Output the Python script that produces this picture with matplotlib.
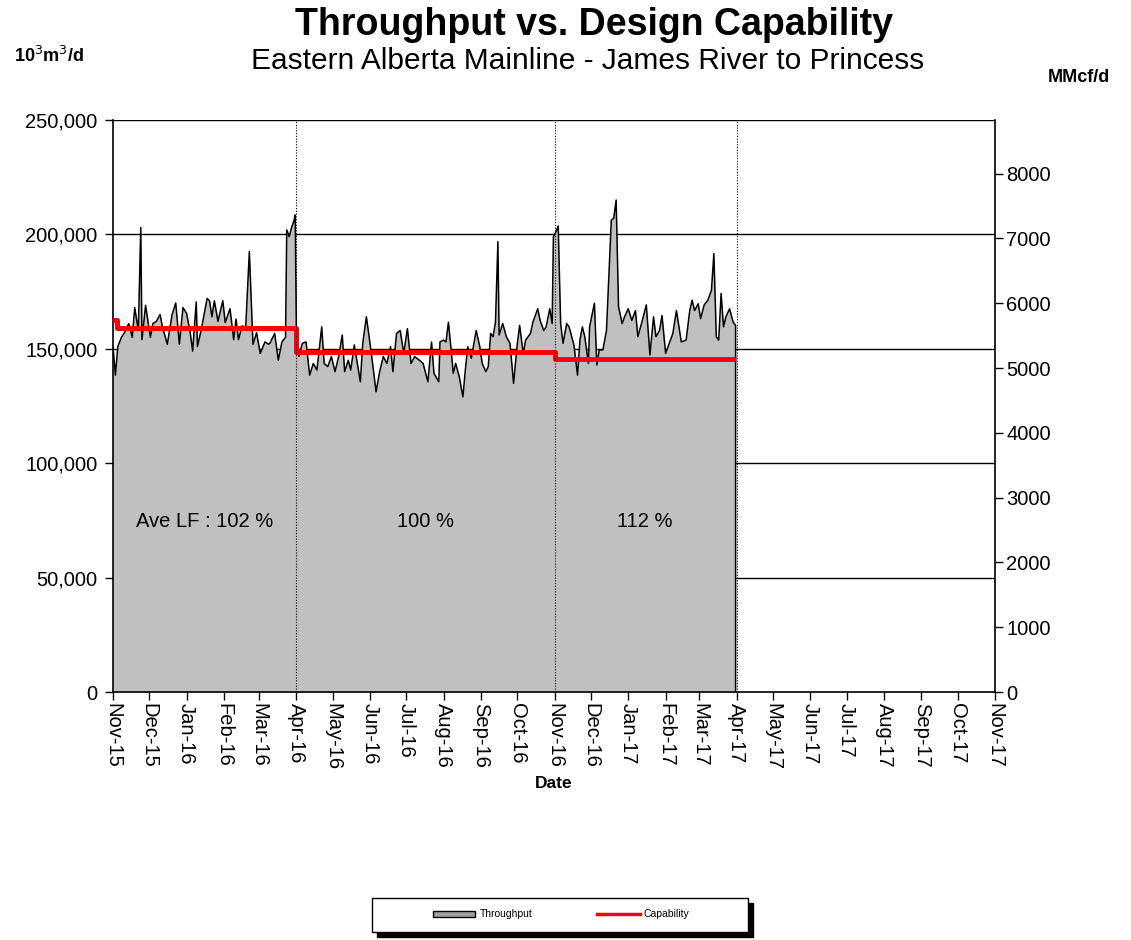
import numpy as np
import matplotlib
matplotlib.use('Agg')
import matplotlib.pyplot as plt
import matplotlib.dates as mdates
from matplotlib.ticker import FuncFormatter, MultipleLocator
from matplotlib.patches import Rectangle
from matplotlib.lines import Line2D

plt.rcParams['font.family'] = ['Liberation Sans', 'DejaVu Sans']

START = np.datetime64('2015-11-01')
END = np.datetime64('2017-11-01')

# Throughput (10^3 m3/d, in thousands) by day offset from 1 Nov 2015
thru_days = [0, 2, 4, 7, 10, 13, 16, 18, 21, 23, 24, 27, 31, 33, 36, 39, 41, 45, 49, 52,
             55, 58, 61, 64, 66, 69, 70, 73, 78, 80, 82, 84, 87, 91, 93, 97, 100, 102, 104, 107,
             110, 113, 116, 119, 122, 126, 129, 130, 134, 137, 140, 143, 144, 146, 148, 150, 151, 152,
             153, 154, 157, 160, 163, 166, 169, 173, 175, 178, 181, 184, 187, 190, 192, 195, 197,
             200, 205, 207, 210, 213, 216, 218, 221, 224, 227, 230, 232, 235, 238, 241, 244, 247,
             250, 254, 257, 261, 264, 266, 270, 271, 274, 276, 278, 280, 282, 284, 287, 290, 292,
             294, 297, 301, 304, 306, 309, 311, 313, 315, 317, 319, 320, 323, 326, 329, 332, 335,
             337, 340, 342, 346, 348, 352, 354, 357, 359, 362, 364, 365, 367, 369, 371, 373, 376,
             378, 382, 385, 387, 389, 391, 394, 395, 399, 401, 403, 406, 409, 410, 413, 415, 417,
             419, 422, 424, 427, 430, 433, 435, 438, 442, 445, 448, 450, 453, 455, 458, 462, 464,
             467, 471, 475, 478, 480, 482, 485, 487, 490, 493, 496, 498, 500, 502, 504, 506, 508,
             511, 514, 516]
thru_k = [151.0, 138.5, 151.0, 155.0, 157.5, 161.0, 155.0, 168.0, 158.0, 203.0, 154.0, 169.0, 155.0, 161.0, 162.0, 165.0, 159.5, 152.0, 165.0, 170.0,
          152.0, 168.0, 165.5, 157.0, 149.0, 170.5, 151.0, 158.0, 172.0, 171.0, 164.0, 171.0, 162.0, 171.0, 161.5, 167.5, 154.0, 163.0, 154.0, 160.0,
          159.5, 192.5, 152.0, 157.0, 148.0, 153.0, 152.0, 152.4, 156.7, 145.0, 153.0, 155.0, 202.0, 199.0, 203.0, 206.0, 208.5, 158.0,
          150.0, 146.7, 152.4, 153.0, 138.5, 143.6, 140.7, 159.6, 143.6, 142.2, 146.6, 140.0, 146.6, 156.0, 140.0, 145.0, 140.7,
          151.7, 135.6, 152.4, 164.0, 152.4, 140.0, 131.2, 140.0, 146.6, 143.6, 150.9, 140.0, 156.7, 158.0, 148.0, 158.8, 143.6,
          146.6, 145.0, 143.6, 135.6, 153.0, 139.3, 135.6, 153.0, 153.8, 153.0, 161.6, 150.9, 139.3, 143.6, 137.8, 129.0, 140.7,
          150.9, 145.9, 158.0, 150.9, 143.6, 140.0, 142.2, 156.7, 155.3, 161.6, 196.8, 156.0, 161.0, 155.3, 152.4, 134.9, 151.7,
          160.2, 148.0, 153.8, 156.7, 161.6, 167.5, 162.4, 158.0, 159.6, 167.5, 161.0, 199.0, 201.0, 203.7, 161.0, 152.4, 161.0,
          159.6, 151.7, 138.5, 153.8, 159.6, 155.3, 143.6, 159.6, 169.9, 142.9, 149.5, 149.5, 158.0, 169.9, 206.3, 207.0, 215.0,
          168.4, 161.0, 164.0, 167.5, 162.4, 166.7, 155.3, 161.0, 169.2, 147.3, 164.0, 155.3, 158.0, 164.6, 148.0, 153.8, 156.7,
          166.7, 153.0, 153.8, 166.7, 171.2, 166.7, 169.7, 163.2, 169.2, 171.2, 175.6, 191.6, 155.3, 153.8, 174.2, 159.6, 164.0,
          167.5, 161.6, 160.2]

# Design capability (10^3 m3/d, thousands), stepwise
cap_days = [0, 3, 152, 366, 516]
cap_k = [162.5, 159.0, 148.5, 145.5, 145.5]

# Load factor periods
period_bounds = ['2015-11-01', '2016-04-01', '2016-11-01', '2017-04-01']
lf_labels = ['Ave LF : 102 %', '100 %', '112 %']

MCF_PER_E3M3 = 28.3168  # 10^3 m3/d per MMcf/d

thru_dates = START + np.array(thru_days).astype('timedelta64[D]')
thru_vals = np.array(thru_k) * 1000
cap_dates = START + np.array(cap_days).astype('timedelta64[D]')
cap_vals = np.array(cap_k) * 1000
bounds = np.array(period_bounds, dtype='datetime64[D]')

fig = plt.figure(figsize=(11.31, 9.40), dpi=100)
ax = fig.add_axes([113/1131, 1-692/940, (995-113)/1131, (692-120)/940])

ax.set_xlim(START, END)
ax.set_ylim(0, 250000)

# gridlines
for yv in [50000, 100000, 150000, 200000, 250000]:
    ax.axhline(yv, color='black', lw=1.0, zorder=1)

ax.fill_between(thru_dates, thru_vals, 0, color='#C0C0C0', zorder=2, lw=0)
line_x = np.append(thru_dates, thru_dates[-1])
line_y = np.append(thru_vals, 0)
ax.plot(line_x, line_y, color='black', lw=1.1, zorder=3)
ax.plot(cap_dates, cap_vals, color='#FF0000', lw=3.6, drawstyle='steps-post', zorder=4,
        solid_capstyle='butt')

for b in bounds[1:]:
    ax.axvline(b, color='black', lw=0.8, ls=(0, (1, 1.5)), zorder=5)

for i, lab in enumerate(lf_labels):
    c = bounds[i] + (bounds[i+1] - bounds[i]) / 2
    ax.text(c, 74700, lab, ha='center', va='center', fontsize=14.5, zorder=6)

ax.xaxis.set_major_locator(mdates.MonthLocator())
ax.xaxis.set_major_formatter(mdates.DateFormatter('%b-%y'))
ax.tick_params(axis='x', direction='out', length=6, width=1, pad=2, labelsize=14.5,
               labelrotation=270)
ax.yaxis.set_major_locator(MultipleLocator(50000))
ax.yaxis.set_major_formatter(FuncFormatter(lambda v, p: f'{int(v):,}'))
ax.tick_params(axis='y', direction='out', length=6, width=1, pad=5, labelsize=14.5)

ax.spines['top'].set_visible(False)
ax.spines['right'].set_visible(False)
ax.spines['left'].set_linewidth(1.2)
ax.spines['bottom'].set_linewidth(1.2)

ax2 = ax.twinx()
ax2.set_ylim(0, 250000 / MCF_PER_E3M3)
ax2.yaxis.set_major_locator(MultipleLocator(1000))
ax2.tick_params(axis='y', direction='out', length=6, width=1, pad=2, labelsize=14.5)
ax2.spines['top'].set_visible(False)
ax2.spines['left'].set_visible(False)
ax2.spines['bottom'].set_visible(False)
ax2.spines['right'].set_linewidth(1.2)

ax.set_xlabel('Date', fontsize=12.5, fontweight='bold', labelpad=4)

fig.text(594/1131, 1-25/940, 'Throughput vs. Design Capability', ha='center', va='center',
         fontsize=27, fontweight='bold')
fig.text(588/1131, 1-61/940, 'Eastern Alberta Mainline - James River to Princess', ha='center',
         va='center', fontsize=21.5)
fig.text(14/1131, 1-56/940, '10$^3$m$^3$/d', ha='left', va='center', fontsize=13,
         fontweight='bold')
fig.text(1048/1131, 1-77/940, 'MMcf/d', ha='left', va='center', fontsize=13,
         fontweight='bold')

# legend box (manual)
lx0, ly0, lw_, lh_ = 372/1131, 1-932/940, 376/1131, 34/940
fig.patches.append(Rectangle((lx0 + 5/1131, ly0 - 5/940), lw_, lh_, transform=fig.transFigure,
                             facecolor='black', edgecolor='black', zorder=10))
fig.patches.append(Rectangle((lx0, ly0), lw_, lh_, transform=fig.transFigure,
                             facecolor='white', edgecolor='black', lw=1.0, zorder=11))
ly_c = 1 - 914/940
fig.patches.append(Rectangle((433/1131, ly_c - 3/940), 42/1131, 6/940, transform=fig.transFigure,
                             facecolor='#A0A0A0', edgecolor='black', lw=1.0, zorder=12))
fig.text(480/1131, ly_c, 'Throughput', ha='left', va='center', fontsize=7.5, zorder=12)
fig.lines.append(Line2D([597/1131, 640/1131], [ly_c, ly_c], transform=fig.transFigure,
                        color='#FF0000', lw=2.5, zorder=12))
fig.text(644/1131, ly_c, 'Capability', ha='left', va='center', fontsize=7.5, zorder=12)

fig.savefig('out.png', dpi=100, facecolor='white')
